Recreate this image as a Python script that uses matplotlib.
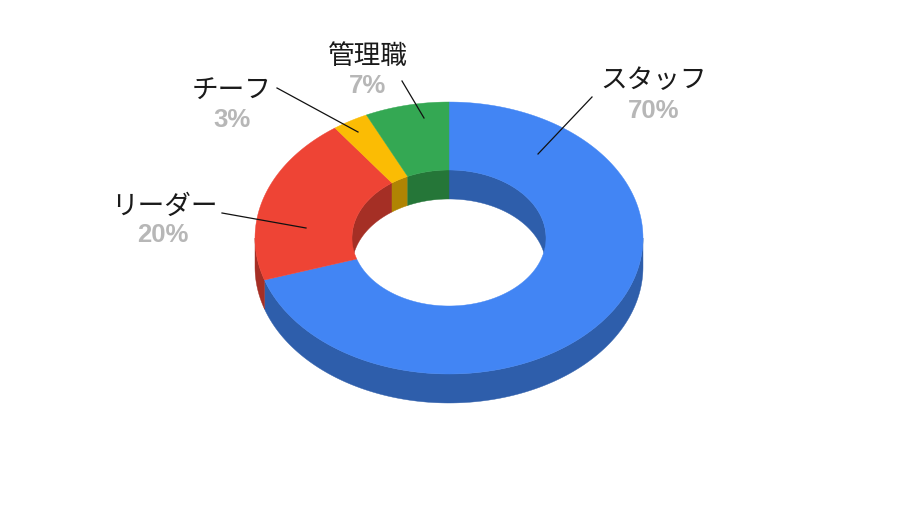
import matplotlib
matplotlib.use("Agg")
import matplotlib.pyplot as plt
import numpy as np

plt.rcParams['font.family'] = ['Noto Sans CJK JP', 'DejaVu Sans']

# clockwise from 12 o'clock
categories = ['スタッフ', 'リーダー', 'チーフ', '管理職']
values = [70, 20, 3, 7]
top_colors = ['#4285F4', '#EE4435', '#FBBC04', '#34A853']
wall_colors = ['#2E5EAB', '#A52F25', '#B08403', '#257638']

# pie geometry in pixels
cx, cy = 449, 239
rx_out, ry_out = 194, 136
rx_in, ry_in = 97, 68
depth = 29

# label placement in pixels: name centre, percent centre, leader start, leader end
label_pos = [(654, 80), (164, 206), (232, 91), (368, 56)]
pct_pos = [(654, 111), (163, 235), (232, 120), (368, 86)]
leader_start = [(592, 98), (222, 214), (277, 89), (402, 82)]
leader_end = [(538, 155), (306, 229), (358, 133), (424, 119)]


def arc(a0, a1, rx, ry, dy=0):
    # angles in degrees, clockwise from the top
    t = np.radians(np.linspace(a0, a1, 200))
    return cx + rx * np.sin(t), cy - ry * np.cos(t) + dy


fig = plt.figure(figsize=(9, 5.06), dpi=100)
ax = fig.add_axes([0, 0, 1, 1])
ax.set_xlim(0, 900)
ax.set_ylim(506, 0)
ax.axis('off')

edges = np.concatenate([[0], np.cumsum(values)]) / sum(values) * 360
spans = list(zip(edges[:-1], edges[1:]))

# outer wall, front half only
for (a0, a1), col in zip(spans, wall_colors):
    lo, hi = max(a0, 90), min(a1, 270)
    if lo < hi:
        x, y = arc(lo, hi, rx_out, ry_out)
        x2, y2 = arc(hi, lo, rx_out, ry_out, depth)
        ax.fill(np.r_[x, x2], np.r_[y, y2], color=col, lw=0.3, zorder=1)

# inner wall, seen through the hole at the back
for (a0, a1), col in zip(spans, wall_colors):
    for lo, hi in [(max(a0, 0), min(a1, 90)), (max(a0, 270), min(a1, 360))]:
        if lo < hi:
            x, y = arc(lo, hi, rx_in, ry_in)
            x2, y2 = arc(hi, lo, rx_in, ry_in, depth)
            ax.fill(np.r_[x, x2], np.r_[y, y2], color=col, lw=0.3, zorder=2)

# top face
for (a0, a1), col in zip(spans, top_colors):
    x, y = arc(a0, a1, rx_out, ry_out)
    x2, y2 = arc(a1, a0, rx_in, ry_in)
    ax.fill(np.r_[x, x2], np.r_[y, y2], color=col, lw=0.3, zorder=3)

for name, v, lp, pp, s, e in zip(categories, values, label_pos, pct_pos, leader_start, leader_end):
    ax.plot([s[0], e[0]], [s[1], e[1]], color='#111111', lw=0.9, zorder=4)
    ax.text(lp[0], lp[1], name, fontsize=19.2, color='#1a1a1a', ha='center', va='center')
    ax.text(pp[0], pp[1], f'{v}%', fontsize=18.5, color='#b7b7b7', fontweight='bold',
            family=['Liberation Sans', 'DejaVu Sans'], ha='center', va='center')

fig.savefig('out.png', dpi=100, facecolor='white')
